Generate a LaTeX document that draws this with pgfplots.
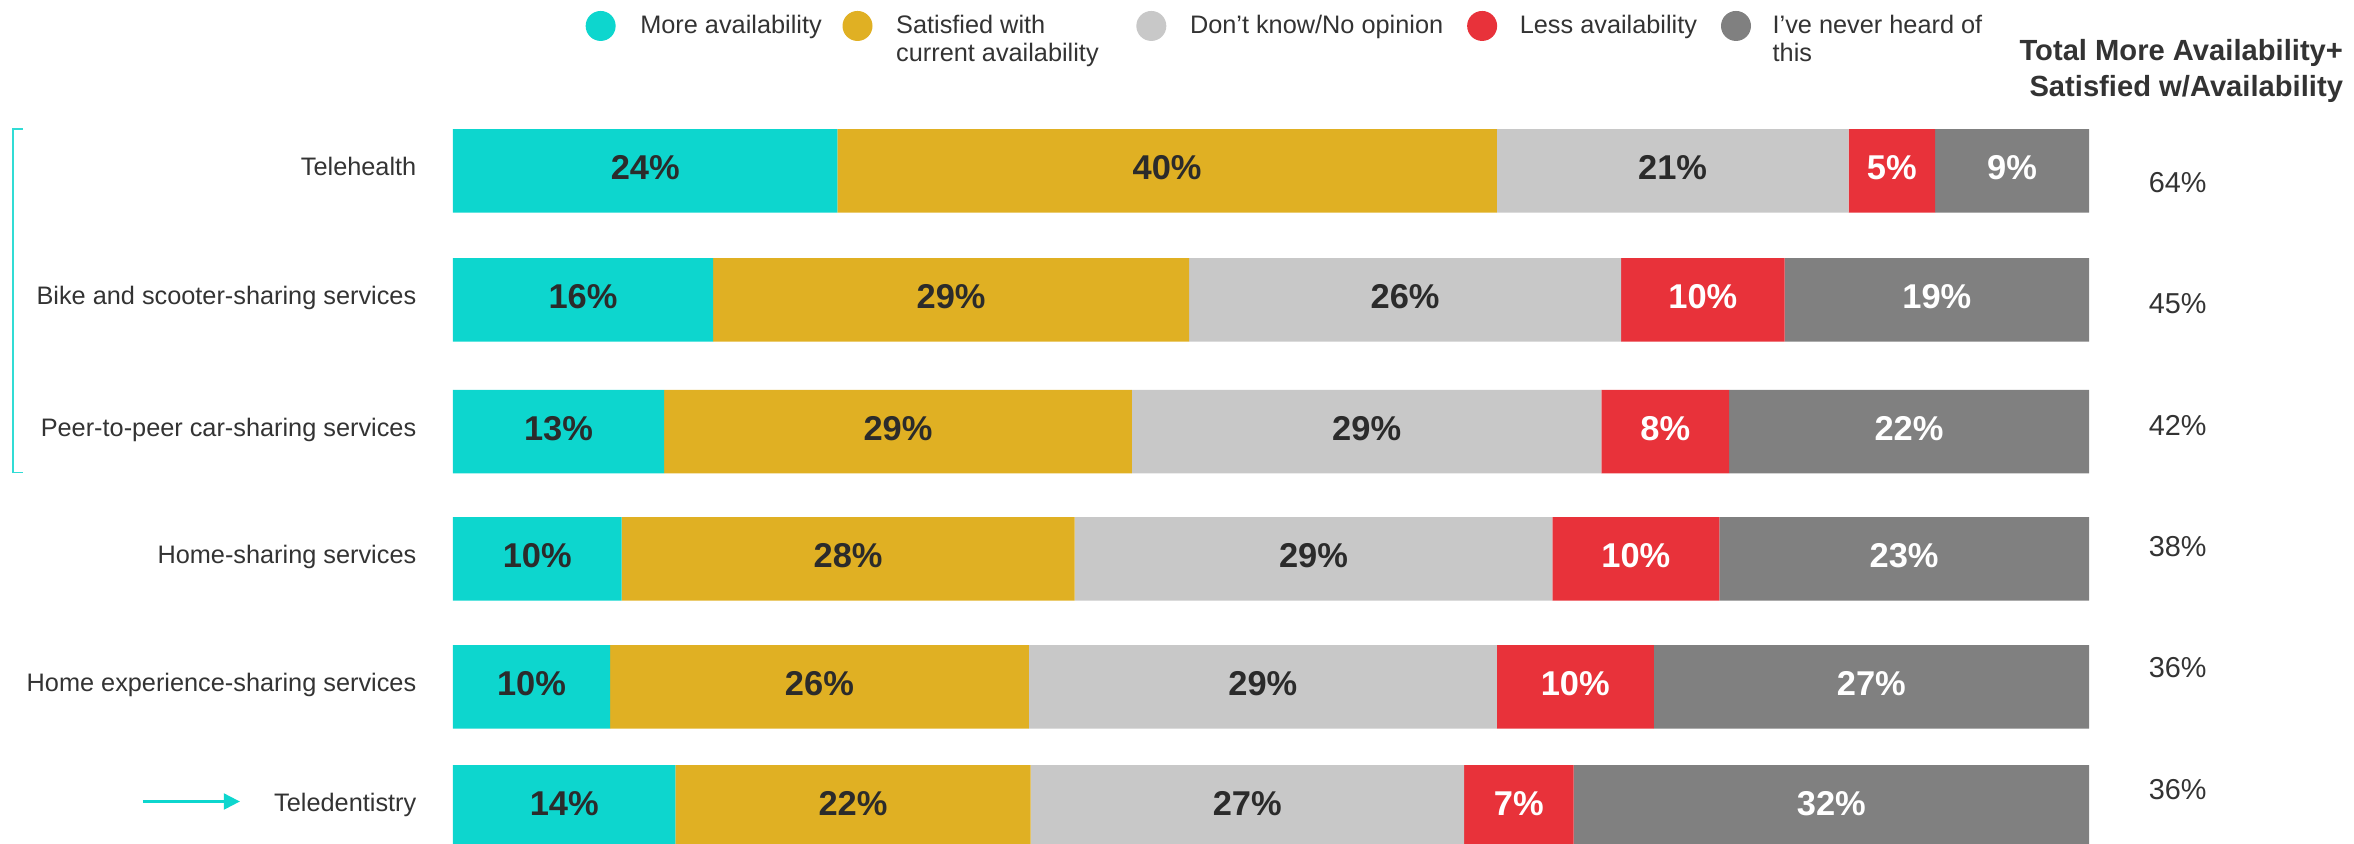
\documentclass[border=0pt]{standalone}
\usepackage{fontspec}
\setmainfont{Liberation Sans}
\usepackage{pgfplots}
\pgfplotsset{compat=1.18}
\usepackage{pgfplotstable}
\usetikzlibrary{arrows.meta}

\definecolor{cMore}{HTML}{0DD6CE}
\definecolor{cSat}{HTML}{E0B023}
\definecolor{cDk}{HTML}{C8C8C8}
\definecolor{cLess}{HTML}{E8323A}
\definecolor{cNever}{HTML}{808080}
\definecolor{txt}{HTML}{2B2B2B}
\definecolor{lab}{HTML}{333333}

\newcommand{\catfont}{\fontsize{7.2}{8.6}\selectfont}
\newcommand{\barfont}{\fontsize{9.8}{11}\selectfont\bfseries}

% y = row centre (px from top), widths in %, l* = printed labels
\pgfplotstableread{
y     more sat  dk   less never lmore lsat ldk lless lnever
170.8 23.5 40.3 21.5 5.3  9.4   24    40   21  5     9
300.0 15.9 29.1 26.4 10.0 18.6  16    29   26  10    19
431.7 12.9 28.6 28.7 7.8  22.0  13    29   29  8     22
558.8 10.3 27.7 29.2 10.2 22.6  10    28   29  10    23
686.8 9.6  25.6 28.6 9.6  26.6  10    26   29  10    27
806.8 13.6 21.7 26.5 6.7  31.5  14    22   27  7     32
}\data

% column, label column, fill, label colour
% (stacked nodes near coords already sit in the middle of each segment)
\newcommand{\seg}[4]{%
  \addplot[fill=#3, draw=none,
    nodes near coords={\pgfplotspointmeta\%},
    every node near coord/.append style={text=#4, anchor=center, yshift=0.03cm}]
    table[x=#1, y=y, meta=#2] {\data};}

\begin{document}
\begin{tikzpicture}
\useasboundingbox (0,0) rectangle (23.54cm,8.44cm);
\begin{axis}[
  at={(4.53cm,0cm)}, anchor=south west,
  scale only axis, width=16.36cm, height=8.44cm,
  xbar stacked, bar width=0.835cm,
  xmin=0, xmax=100, ymin=0, ymax=844, y dir=reverse,
  axis line style={draw=none}, major tick length=0pt,
  xtick=\empty, ytick=data,
  yticklabels={Telehealth, Bike and scooter-sharing services, Peer-to-peer car-sharing services,
    Home-sharing services, Home experience-sharing services, Teledentistry},
  yticklabel style={font=\catfont, text=lab, inner sep=0pt, anchor=base east,
    xshift=-0.36cm, yshift=-0.05cm},
  point meta=explicit symbolic,
  every node near coord/.append style={font=\barfont},
]
\seg{more}{lmore}{cMore}{txt}
\seg{sat}{lsat}{cSat}{txt}
\seg{dk}{ldk}{cDk}{txt}
\seg{less}{lless}{cLess}{white}
\seg{never}{lnever}{cNever}{white}
\end{axis}

\begin{scope}[shift={(0,8.44cm)}, x=0.01cm, y=-0.01cm]
  % legend
  \foreach \cx/\col in {601/cMore, 858/cSat, 1152/cDk, 1483/cLess, 1737/cNever}
    \fill[\col] (\cx,26) circle[radius=0.15cm];
  \begin{scope}[every node/.style={font=\catfont, text=lab, inner sep=0pt, anchor=base west}]
    \node at (640,34) {More availability};
    \node at (896,34) {Satisfied with};
    \node at (896,62) {current availability};
    \node at (1190,34) {Don't know/No opinion};
    \node at (1520,34) {Less availability};
    \node at (1773,34) {I've never heard of};
    \node at (1773,62) {this};
  \end{scope}
  % header of the total column
  \begin{scope}[every node/.style={font=\fontsize{8.3}{10}\selectfont\bfseries, text=lab, inner sep=0pt, anchor=base east}]
    \node at (2345,61) {Total More Availability+};
    \node at (2345,97) {Satisfied w/Availability};
  \end{scope}
  % totals
  \begin{scope}[every node/.style={font=\fontsize{8.2}{10}\selectfont, text=lab, inner sep=0pt, anchor=base}]
    \node at (2179,193) {64\%};
    \node at (2179,314) {45\%};
    \node at (2179,436) {42\%};
    \node at (2179,557) {38\%};
    \node at (2179,678) {36\%};
    \node at (2179,800) {36\%};
  \end{scope}
  % bracket and arrow
  \draw[cMore!85, line width=0.4pt] (23,129) -- (13,129) -- (13,473) -- (23,473);
  \draw[cMore, line width=0.6pt, -{Triangle[length=0.16cm, width=0.16cm]}] (143,802) -- (240,802);
\end{scope}
\end{tikzpicture}
\end{document}
